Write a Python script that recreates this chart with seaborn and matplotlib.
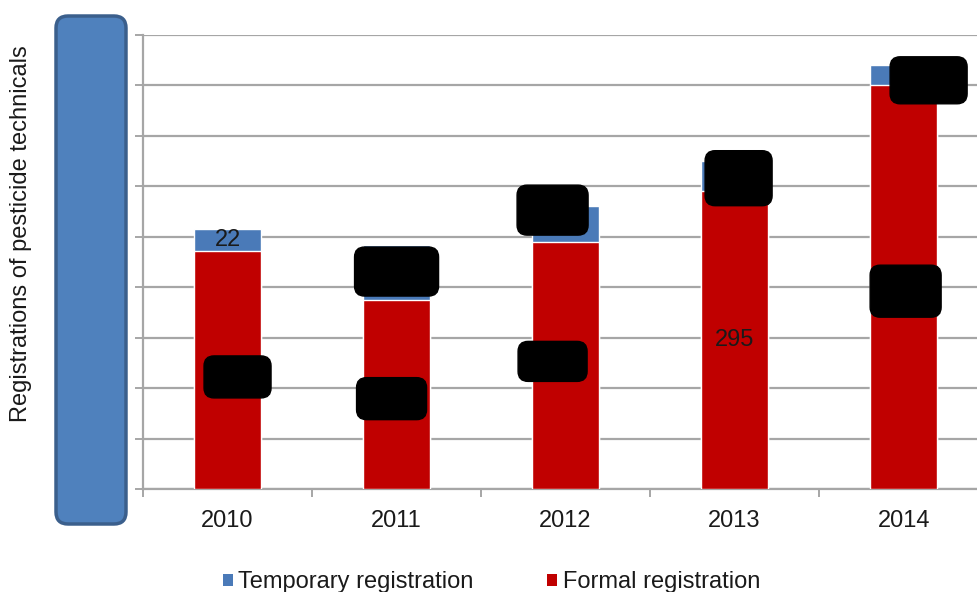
import matplotlib
matplotlib.use("Agg")
import matplotlib.pyplot as plt
import matplotlib.transforms as mtransforms
from matplotlib.patches import FancyBboxPatch, Patch
import seaborn as sns
import pandas as pd

# ==========================
#  DATA
# ==========================
years = ["2010", "2011", "2012", "2013", "2014"]
formal = [236, 187, 245, 295, 400]
temporary = [22, 55, 35, 30, 20]

series_names = ["Temporary registration", "Formal registration"]
ylabel = "Registrations of pesticide technicals"

# which value labels are visible (the rest are blacked out in the source)
shown_formal = [False, False, False, True, False]
shown_temp = [True, False, False, False, False]

RED = "#c00000"
BLUE = "#4a7ab8"
GRID = "#a6a6a6"
TXT = "#1a1a1a"
FS = 17

df = pd.DataFrame({"Year": years, "Formal": formal, "Temporary": temporary})
df["Total"] = df["Formal"] + df["Temporary"]

sns.set_style("white")
plt.rcParams["font.family"] = ["Liberation Sans", "DejaVu Sans"]

fig = plt.figure(figsize=(9.77, 5.92), dpi=100)
ax = fig.add_axes([0.1464, 0.174, 0.865, 0.767])

# stacked bars: total in blue, formal in red on top of it
sns.barplot(data=df, x="Year", y="Total", color=BLUE, width=0.4,
            saturation=1, ax=ax, zorder=2)
sns.barplot(data=df, x="Year", y="Formal", color=RED, width=0.4,
            saturation=1, ax=ax, zorder=3)

ax.set_ylim(0, 450)
ax.set_xlim(-0.5, 4.5)
ax.set_yticks(range(0, 451, 50))
ax.yaxis.grid(True, color=GRID, linewidth=1.6, zorder=0)
ax.set_axisbelow(True)

for side in ["top", "right"]:
    ax.spines[side].set_visible(False)
for side in ["left", "bottom"]:
    ax.spines[side].set_color(GRID)
    ax.spines[side].set_linewidth(1.6)

ax.tick_params(axis="y", direction="out", length=6, width=1.4, color=GRID,
               labelsize=12, pad=8, left=True)
ax.tick_params(axis="x", which="major", length=0, labelsize=FS, pad=15,
               labelcolor=TXT)
ax.set_xticks([i - 0.5 for i in range(len(years) + 1)], minor=True)
ax.tick_params(axis="x", which="minor", direction="out", length=6,
               width=1.4, color=GRID, bottom=True)

ax.set_xlabel("")
ax.set_ylabel(ylabel, fontsize=FS, color=TXT)
ax.yaxis.set_label_coords(-0.131, 0.562)

# value labels; hidden ones get a black rounded box like the source
redact = {  # (series, index): (dx_in, dy_in, w_in, h_in)
    ("f", 0): (0.10, -0.07, 0.67, 0.42),
    ("f", 1): (-0.05, -0.04, 0.70, 0.42),
    ("f", 2): (-0.13, 0.04, 0.69, 0.40),
    ("f", 4): (0.02, -0.04, 0.71, 0.52),
    ("t", 1): (0.00, 0.01, 0.84, 0.49),
    ("t", 2): (-0.13, 0.14, 0.71, 0.50),
    ("t", 3): (0.04, -0.02, 0.67, 0.55),
    ("t", 4): (0.25, -0.05, 0.77, 0.47),
}
for i, yr in enumerate(years):
    segs = [("f", formal[i] / 2, formal[i], shown_formal[i]),
            ("t", formal[i] + temporary[i] / 2, temporary[i], shown_temp[i])]
    for key, yc, val, shown in segs:
        ax.text(i, yc, str(val), ha="center", va="center", fontsize=FS,
                color=TXT, zorder=5)
        if not shown:
            dx, dy, w, h = redact[(key, i)]
            trans = fig.dpi_scale_trans + mtransforms.ScaledTranslation(
                i, yc, ax.transData)
            ax.add_patch(FancyBboxPatch(
                (dx - w / 2, dy - h / 2), w, h,
                boxstyle="round,pad=0,rounding_size=0.1",
                facecolor="black", edgecolor="black", transform=trans,
                zorder=6, clip_on=False))

# the blue box that covers the y tick labels
fig.patches.append(FancyBboxPatch(
    (0.56, 0.68), 0.70, 5.08, boxstyle="round,pad=0,rounding_size=0.12",
    facecolor="#4f81bd", edgecolor="#3b5f8c", linewidth=2.5,
    transform=fig.dpi_scale_trans, figure=fig, zorder=10))

handles = [Patch(facecolor=BLUE, edgecolor="none"),
           Patch(facecolor=RED, edgecolor="none")]
leg = fig.legend(handles, series_names, loc="lower center", ncol=2,
                 bbox_to_anchor=(0.503, -0.038), frameon=False, fontsize=FS,
                 handlelength=0.42, handleheight=0.42, handletextpad=0.25,
                 columnspacing=3.1)
for t in leg.get_texts():
    t.set_color(TXT)

plt.savefig("out.png", dpi=100)
